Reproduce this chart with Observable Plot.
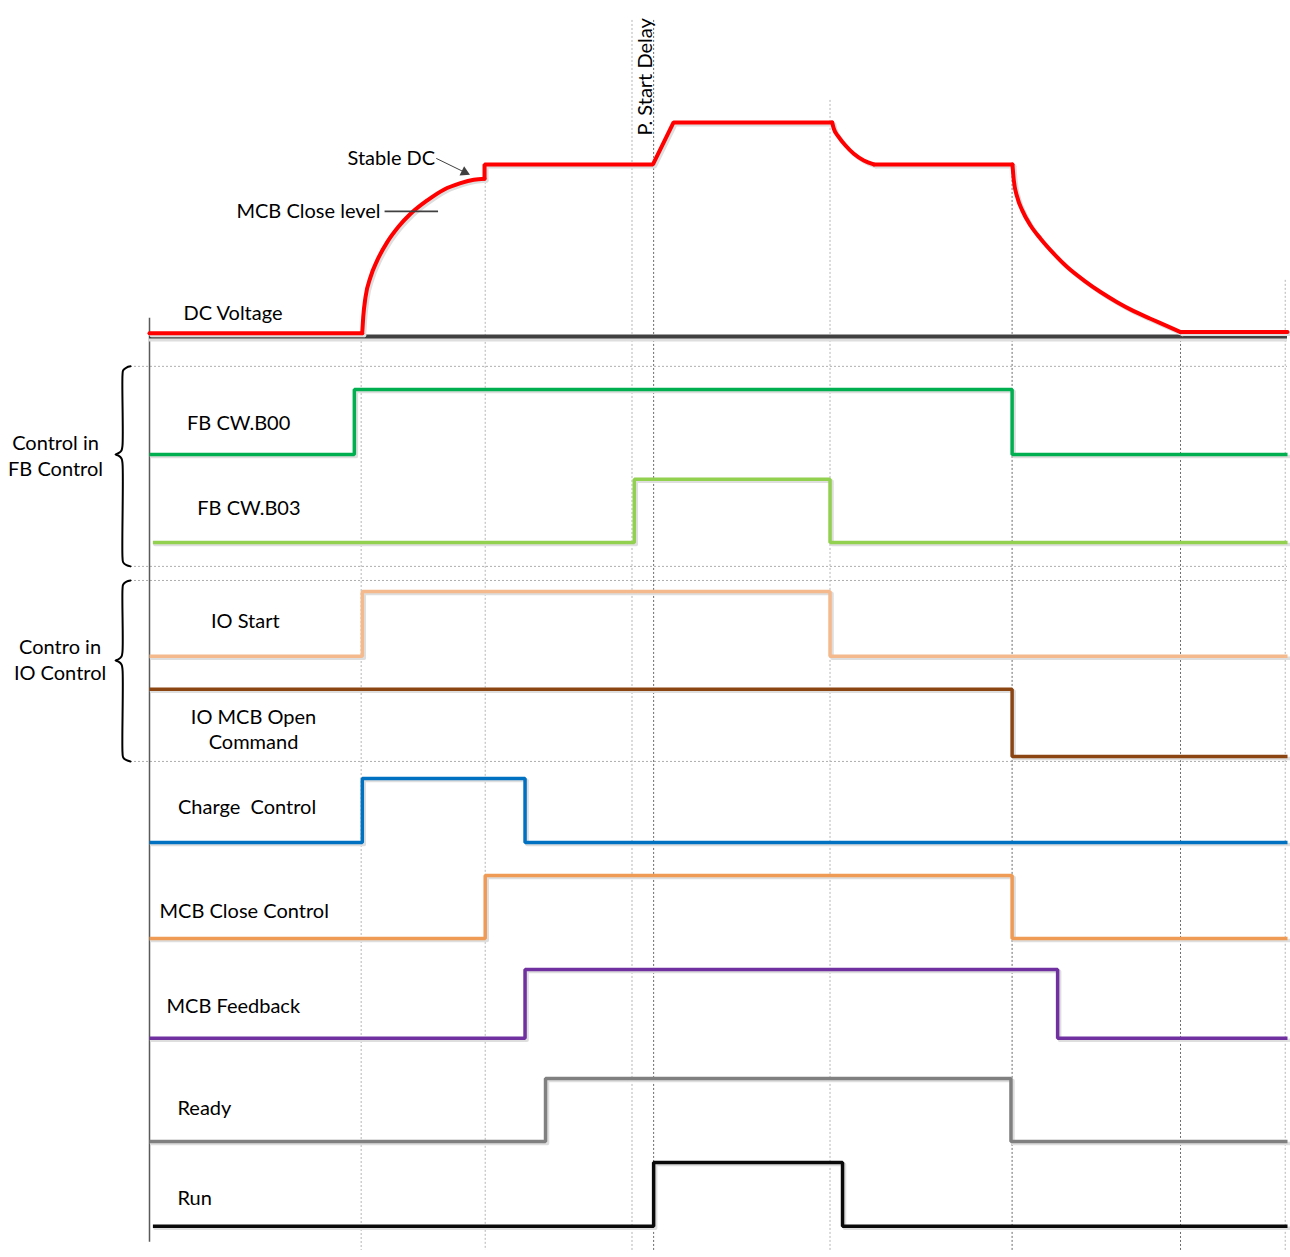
<!DOCTYPE html>
<html>
<head>
<meta charset="utf-8">
<script src="https://cdn.jsdelivr.net/npm/d3@7"></script>
<script src="https://cdn.jsdelivr.net/npm/@observablehq/plot@0.6"></script>
<style>
  html, body { margin: 0; padding: 0; background: #ffffff; }
  #chart svg { display: block; }
</style>
</head>
<body>
<div id="chart"></div>
<script>
// ---------------- DATA ----------------
// Sequence time runs 0..100 (relative units); DC voltage in % of stable DC.
const sequenceEnd = 100;

// DC voltage trace, split in pieces (straight / curved)
const dcTimes = [
  0, 18.69,
  18.69, 18.78, 18.98, 19.42, 20.01, 20.89, 21.91, 22.94, 24.41, 25.86, 27.33, 28.50, 29.44,
  29.44, 29.44, 44.24, 46.05, 59.99,
  59.99, 60.13, 60.57, 61.16, 61.89, 62.77, 63.65,
  63.65, 75.83,
  75.83, 75.95, 76.25, 76.69, 77.42, 78.30, 79.46, 80.64, 82.10, 83.57, 85.03, 86.49, 87.96, 89.43, 90.60,
  90.60, 100
];
const dcVolts = [
  1.9, 1.9,
  1.9, 11.2, 22.8, 34.5, 44.2, 54.8, 64.0, 71.3, 79.1, 85.3, 89.1, 91.1, 91.7,
  91.7, 100, 100, 124.4, 124.4,
  124.4, 120.8, 115.9, 111.0, 106.2, 102.3, 100,
  100, 100,
  100, 90.7, 81.0, 73.3, 64.5, 56.8, 48.1, 40.3, 32.6, 25.8, 19.9, 14.7, 10.3, 6.0, 2.5,
  2.5, 2.5
];
const dcPiece = [
  0, 0,
  1, 1, 1, 1, 1, 1, 1, 1, 1, 1, 1, 1, 1,
  2, 2, 2, 2, 2,
  3, 3, 3, 3, 3, 3, 3,
  4, 4,
  5, 5, 5, 5, 5, 5, 5, 5, 5, 5, 5, 5, 5, 5, 5,
  6, 6
];
const dcPieceCurved = [false, true, false, true, false, true, false];
const mcbCloseLevel = 72.7;   // % of stable DC

// Digital signals
const signalNames = ["FB CW.B00", "FB CW.B03", "IO Start", "IO MCB Open Command",
  "Charge Control", "MCB Close Control", "MCB Feedback", "Ready", "Run"];
const signalLabels = ["FB CW.B00", "FB CW.B03", "IO Start", "IO MCB Open\nCommand",
  "Charge  Control", "MCB Close Control", "MCB Feedback", "Ready", "Run"];
const signalStart = [0, 0.3, 0, 0, 0, 0, 0, 0, 0.3];
const signalInitial = [0, 0, 0, 1, 0, 0, 0, 0, 0];
const signalEdges = [
  [18.0, 75.8],
  [42.6, 59.8],
  [18.7, 59.8],
  [75.8],
  [18.7, 33.0],
  [29.5, 75.8],
  [33.0, 79.8],
  [34.8, 75.7],
  [44.3, 60.9]
];

// Event guide lines (times)
const guideTimes = [18.6, 29.5, 42.4, 44.3, 59.8, 75.8, 90.6, 99.8];

// Group labels
const groupLabels = ["Control in\nFB Control", "Contro in\nIO Control"];

// Annotation texts
const dcLabels = ["DC Voltage", "Stable DC", "MCB Close level"];
const delayLabel = "P. Start Delay";

// ---------------- STYLE / LAYOUT ----------------
const signalColors = ["#00b050", "#92d050", "#f4b98c", "#8b4513", "#0070c0",
  "#ef9a55", "#7030a0", "#808080", "#0a0a0a"];
// lane levels in diagram units (same units as DC %, 0 = DC baseline)
const laneLow  = [-68.6, -119.8, -186.0, -244.2, -294.2, -350.0, -408.1, -468.0, -517.4];
const laneHigh = [-30.8,  -83.1, -148.3, -205.2, -257.0, -313.4, -368.0, -431.4, -480.2];
const labelT = [3.3, 4.2, 5.4, 9.14, 2.5, 0.88, 1.49, 2.46, 2.46];
const labelY = [-50.6, -100.0, -165.7, -228.2, -273.8, -334.3, -389.5, -448.8, -501.2];
const labelCentered = [false, false, false, true, false, false, false, false, false];

const guideTop = [1.7, 91.9, 183.7, 183.7, 137.2, 100, 2.3, 32.6];
const guideDark = [false, false, false, true, false, true, true, false];
const guideBottom = -531.4;

const groupTop = [-17.4, -141.9];
const groupTip = [-68.6, -188.4];
const groupBottom = [-133.7, -247.1];
const groupLabelT = [-8.26, -7.86];
const groupLabelY = [-68.6, -187.5];

const dcLabelT = [2.99, 17.4, 7.64];
const dcLabelY = [13.4, 103.5, 72.7];

// ---------------- BUILD ROWS ----------------
const dcRows = dcTimes.map((t, i) => ({t, v: dcVolts[i], piece: dcPiece[i], curved: dcPieceCurved[dcPiece[i]]}));
const dcStraight = dcRows.filter(d => !d.curved);
const dcCurved = dcRows.filter(d => d.curved);

const sigRows = [];
signalNames.forEach((name, i) => {
  let s = signalInitial[i];
  const lvl = st => laneLow[i] + st * (laneHigh[i] - laneLow[i]);
  const color = signalColors[i];
  sigRows.push({name, t: signalStart[i], v: lvl(s), color});
  for (const e of signalEdges[i]) { s = 1 - s; sigRows.push({name, t: e, v: lvl(s), color}); }
  sigRows.push({name, t: sequenceEnd, v: lvl(s), color});
});

const labelRows = signalLabels.map((text, i) => ({text, t: labelT[i], y: labelY[i], centered: labelCentered[i]}));
const guideRows = guideTimes.map((t, i) => ({t, top: guideTop[i], dark: guideDark[i]}));

// px -> units helpers for annotation shapes (1px horiz = 100/1138 t, 1px vert = 1/1.72 units)
const PX_T = 100 / 1138, PX_Y = 1 / 1.72;
const braceRows = [];
groupTop.forEach((top, g) => {
  const tip = groupTip[g], bot = groupBottom[g];
  const endX = -19 * PX_T, stemX = -27 * PX_T, tipX = -34 * PX_T;
  const pts = [
    [endX, top], [-23 * PX_T, top - 1.2 * PX_Y], [-26.3 * PX_T, top - 4 * PX_Y], [stemX, top - 9 * PX_Y],
    [stemX, tip + 9 * PX_Y], [-28 * PX_T, tip + 4 * PX_Y], [-31 * PX_T, tip + 1.2 * PX_Y], [tipX, tip],
    [-31 * PX_T, tip - 1.2 * PX_Y], [-28 * PX_T, tip - 4 * PX_Y], [stemX, tip - 9 * PX_Y],
    [stemX, bot + 9 * PX_Y], [-26.3 * PX_T, bot + 4 * PX_Y], [-23 * PX_T, bot + 1.2 * PX_Y], [endX, bot]
  ];
  pts.forEach(([t, y]) => braceRows.push({g, t, y}));
});
const hGuides = [...groupTop, ...groupBottom];

// Stable DC pointer: from label end to the curve top
const arrowFrom = {t: 25.2, v: 103.5}, arrowTo = {t: 28.08, v: 94.2};
const arrowAngle = Math.atan2(16, 32.9) * 180 / Math.PI; // screen angle of pointer
const headBack = {t: arrowTo.t - 5 * 0.899 * PX_T, v: arrowTo.v + 5 * 0.437 * PX_Y};

const shadow = "#dedede";
const plot = Plot.plot({
  width: 1290,
  height: 1257,
  marginTop: 0, marginRight: 0, marginBottom: 0, marginLeft: 0,
  x: {domain: [0, 100], range: [149, 1287], axis: null},
  y: {domain: [-535.5, 195.3], range: [1257, 0], axis: null},
  color: {type: "identity"},
  style: {fontFamily: "Lato, 'Noto Sans', sans-serif", fontSize: "20px", background: "#ffffff"},
  marks: [
    // horizontal group separators
    Plot.ruleY(hGuides, {y: d => d, x1: -19 * PX_T, x2: 100, stroke: "#9a9a9a", strokeWidth: 1, strokeDasharray: "2,2", strokeOpacity: 0.8}),
    // vertical event guides
    Plot.ruleX(guideRows, {x: "t", y1: "top", y2: guideBottom,
      stroke: d => d.dark ? "#6a6a6a" : "#b5b5b5", strokeWidth: 1, strokeDasharray: "2,2"}),
    // left axis line
    Plot.ruleX([0], {y1: 10.5, y2: -526.7, stroke: "#5a5a5a", strokeWidth: 1.5}),
    // DC baseline
    Plot.ruleY([0], {x1: 0, x2: 100, stroke: shadow, strokeWidth: 4, dy: 3}),
    Plot.ruleY([0], {x1: 0, x2: 100, stroke: "#404040", strokeWidth: 4}),
    // DC voltage trace (shadow then red)
    Plot.line(dcStraight, {x: "t", y: "v", z: "piece", stroke: shadow, strokeWidth: 4, dx: 2, dy: 2}),
    Plot.line(dcCurved, {x: "t", y: "v", z: "piece", curve: "monotone-x", stroke: shadow, strokeWidth: 4, dx: 2, dy: 2}),
    Plot.line(dcStraight, {x: "t", y: "v", z: "piece", stroke: "#ff0000", strokeWidth: 4, strokeLinejoin: "miter"}),
    Plot.line(dcCurved, {x: "t", y: "v", z: "piece", curve: "monotone-x", stroke: "#ff0000", strokeWidth: 4}),
    // MCB close level marker
    Plot.ruleY([mcbCloseLevel], {x1: 20.7, x2: 25.4, stroke: "#404040", strokeWidth: 1.8}),
    // digital signals
    Plot.line(sigRows, {x: "t", y: "v", z: "name", curve: "step-after", stroke: shadow, strokeWidth: 3.5, dx: 2, dy: 2}),
    Plot.line(sigRows, {x: "t", y: "v", z: "name", curve: "step-after", stroke: "color", strokeWidth: 3.5, strokeLinejoin: "miter", strokeLinecap: "butt"}),
    // Stable DC pointer
    Plot.link([0], {x1: arrowFrom.t, y1: arrowFrom.v, x2: headBack.t, y2: headBack.v, stroke: "#404040", strokeWidth: 1}),
    Plot.dot([0], {x: headBack.t, y: headBack.v, symbol: "triangle2", r: 5, fill: "#404040", rotate: 90 + arrowAngle}),
    // braces
    Plot.line(braceRows, {x: "t", y: "y", z: "g", curve: "catmull-rom", stroke: "#000", strokeWidth: 2}),
    // texts
    Plot.text(labelRows.filter(d => !d.centered), {x: "t", y: "y", text: "text", textAnchor: "start", fill: "#000", fontSize: 20}),
    Plot.text(labelRows.filter(d => d.centered), {x: "t", y: "y", text: "text", textAnchor: "middle", fill: "#000", fontSize: 20, lineHeight: 1.25}),
    Plot.text(dcLabels, {x: (d, i) => dcLabelT[i], y: (d, i) => dcLabelY[i], text: d => d, textAnchor: "start", fill: "#000", fontSize: 20}),
    Plot.text(groupLabels, {x: (d, i) => groupLabelT[i], y: (d, i) => groupLabelY[i], text: d => d, textAnchor: "middle", fill: "#000", fontSize: 20, lineHeight: 1.3}),
    Plot.text([delayLabel], {x: 43.6, y: 150.9, text: d => d, rotate: -90, textAnchor: "middle", fill: "#000", fontSize: 20})
  ]
});
document.getElementById("chart").appendChild(plot);
</script>
</body>
</html>
